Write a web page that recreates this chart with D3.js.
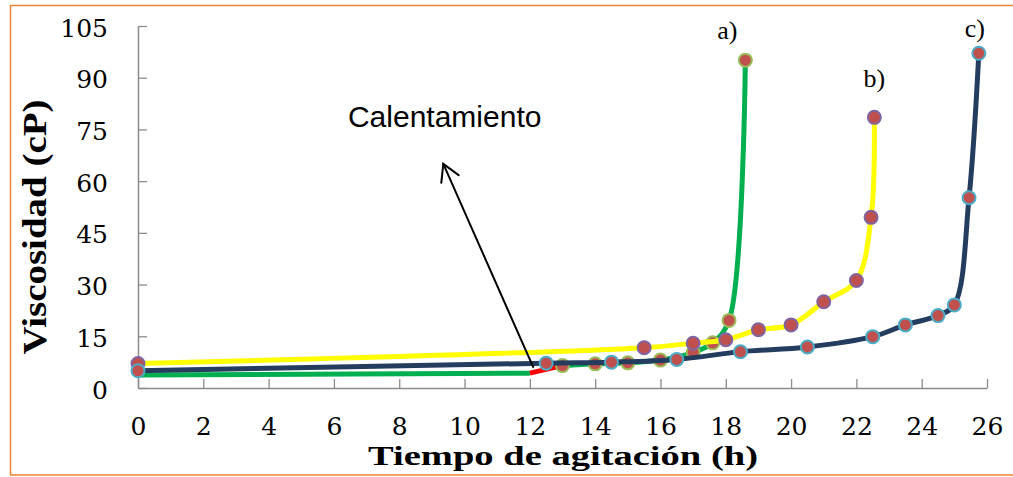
<!DOCTYPE html>
<html>
<head>
<meta charset="utf-8">
<script src="https://cdn.jsdelivr.net/npm/d3@7"></script>
<style>
  body { margin: 0; background: #fff; }
  svg { display: block; }
</style>
</head>
<body>
<svg id="chart" width="1013" height="477"></svg>
<script>
// Tick labels
const xTicks = [0, 2, 4, 6, 8, 10, 12, 14, 16, 18, 20, 22, 24, 26];
const yTicks = [0, 15, 30, 45, 60, 75, 90, 105];

// a) before heating (line only), heating step, and after heating
const timeA0 = [0, 12];
const viscA0 = [3.8, 4.3];
const timeHeat = [12, 13];
const viscHeat = [4.3, 6.5];
const timeA = [13, 14, 15, 16, 17, 17.6, 18.1, 18.6];
const viscA = [6.5, 7, 7.3, 8.1, 10.3, 13.1, 19.6, 95.1];

// b)
const timeB = [0, 15.5, 17, 18, 19, 20, 21, 22, 22.45, 22.55];
const viscB = [7.1, 11.7, 13, 14, 16.9, 18.3, 25, 31.2, 49.5, 78.5];

// c)
const timeC = [0, 12.5, 14.5, 16.5, 18.45, 20.5, 22.5, 23.5, 24.5, 25, 25.45, 25.75];
const viscC = [5, 7.2, 7.5, 8.3, 10.5, 11.9, 14.9, 18.3, 21, 24.1, 55.2, 97.1];

// Arrow annotation (data units): tail near the heating step, head under the label
const arrowT = [12.1, 9.35];
const arrowV = [6.1, 65];

const svg = d3.select("#chart");

const x = d3.scaleLinear().domain([0, 26]).range([138, 987]);
const y = d3.scaleLinear().domain([0, 105]).range([388, 26]);

const zip = (ts, vs) => ts.map((t, i) => ({ t, v: vs[i] }));

// outer frame
svg.append("rect")
  .attr("x", 10.5).attr("y", 5.5)
  .attr("width", 1010).attr("height", 469.5)
  .attr("fill", "#fff")
  .attr("stroke", "#f08330").attr("stroke-width", 1.5);

// axes
const axisColor = "#8c8c8c";
const serif = "'DejaVu Serif', serif";

const gy = svg.append("g")
  .attr("transform", `translate(${x(0)},0)`)
  .call(d3.axisLeft(y).tickValues(yTicks).tickSizeInner(-9).tickSizeOuter(0).tickPadding(30));
const gx = svg.append("g")
  .attr("transform", `translate(0,${y(0)})`)
  .call(d3.axisBottom(x).tickValues(xTicks).tickSizeInner(-9).tickSizeOuter(0).tickPadding(29));

[gx, gy].forEach(g => {
  g.select(".domain").attr("stroke", axisColor).attr("stroke-width", 1.5);
  g.selectAll(".tick line").attr("stroke", axisColor).attr("stroke-width", 1.3);
  g.selectAll(".tick text")
    .attr("fill", "#000")
    .style("font-family", serif)
    .style("font-size", "25px");
});
gy.selectAll(".tick text").attr("dy", "0.4em");

// axis titles
svg.append("text")
  .attr("transform", `translate(46,${(y(0) + y(105)) / 2 + 20}) rotate(-90)`)
  .attr("text-anchor", "middle")
  .attr("textLength", 255).attr("lengthAdjust", "spacingAndGlyphs")
  .style("font-family", "'Liberation Serif', serif")
  .style("font-weight", "bold")
  .style("font-size", "33px")
  .text("Viscosidad (cP)");

svg.append("text")
  .attr("x", 563).attr("y", 465)
  .attr("text-anchor", "middle")
  .attr("textLength", 390).attr("lengthAdjust", "spacingAndGlyphs")
  .style("font-family", "'Liberation Serif', serif")
  .style("font-weight", "bold")
  .style("font-size", "28px")
  .text("Tiempo de agitación (h)");

// series
const straight = d3.line().x(d => x(d.t)).y(d => y(d.v));
const smooth = d3.line().x(d => x(d.t)).y(d => y(d.v)).curve(d3.curveCatmullRom.alpha(0.5));

const markerFill = "#c0504d";

function drawLine(data, gen, color) {
  svg.append("path")
    .datum(data)
    .attr("d", gen)
    .attr("fill", "none")
    .attr("stroke", color)
    .attr("stroke-width", 5)
    .attr("stroke-linejoin", "round");
}
function drawMarkers(data, border) {
  svg.append("g").selectAll("circle")
    .data(data)
    .join("circle")
    .attr("cx", d => x(d.t))
    .attr("cy", d => y(d.v))
    .attr("r", 6.5)
    .attr("fill", markerFill)
    .attr("stroke", border)
    .attr("stroke-width", 2);
}

// a)
drawLine(zip(timeA0, viscA0), straight, "#00b050");
drawLine(zip(timeA, viscA), smooth, "#00b050");
drawLine(zip(timeHeat, viscHeat), straight, "#ff0000");
drawMarkers(zip(timeA, viscA), "#9bbb59");

// b)
drawLine(zip(timeB, viscB), smooth, "#ffff00");
drawMarkers(zip(timeB, viscB), "#8064a2");

// c)
drawLine(zip(timeC, viscC), smooth, "#243d5f");
drawMarkers(zip(timeC, viscC), "#4bacc6");

// series labels next to the last point of each curve
const labels = [
  { text: "a)", t: timeA[timeA.length - 1], v: viscA[viscA.length - 1], dx: -18, dy: -21 },
  { text: "b)", t: timeB[timeB.length - 1], v: viscB[viscB.length - 1], dx: 0, dy: -30 },
  { text: "c)", t: timeC[timeC.length - 1], v: viscC[viscC.length - 1], dx: -4, dy: -16 }
];
svg.append("g").selectAll("text")
  .data(labels)
  .join("text")
  .attr("x", d => x(d.t) + d.dx)
  .attr("y", d => y(d.v) + d.dy)
  .attr("text-anchor", "middle")
  .style("font-family", "'Liberation Serif', serif")
  .style("font-size", "26px")
  .text(d => d.text);

// heating annotation: arrow with open head
const tail = [x(arrowT[0]), y(arrowV[0])];
const head = [x(arrowT[1]), y(arrowV[1])];
const ang = Math.atan2(tail[1] - head[1], tail[0] - head[0]);
const armLen = 19, spread = Math.PI / 6;
const arrow = svg.append("g").attr("stroke", "#000").attr("stroke-width", 2).attr("fill", "none")
  .attr("stroke-linecap", "round");
arrow.append("line")
  .attr("x1", tail[0]).attr("y1", tail[1])
  .attr("x2", head[0]).attr("y2", head[1]);
arrow.append("path")
  .attr("d", `M${head[0] + armLen * Math.cos(ang - spread)},${head[1] + armLen * Math.sin(ang - spread)}` +
             `L${head[0]},${head[1]}` +
             `L${head[0] + armLen * Math.cos(ang + spread)},${head[1] + armLen * Math.sin(ang + spread)}`);

svg.append("text")
  .attr("x", x(6.43)).attr("y", y(75.7))
  .style("font-family", "'Liberation Sans', Arial, sans-serif")
  .style("font-size", "30px")
  .text("Calentamiento");
</script>
</body>
</html>
